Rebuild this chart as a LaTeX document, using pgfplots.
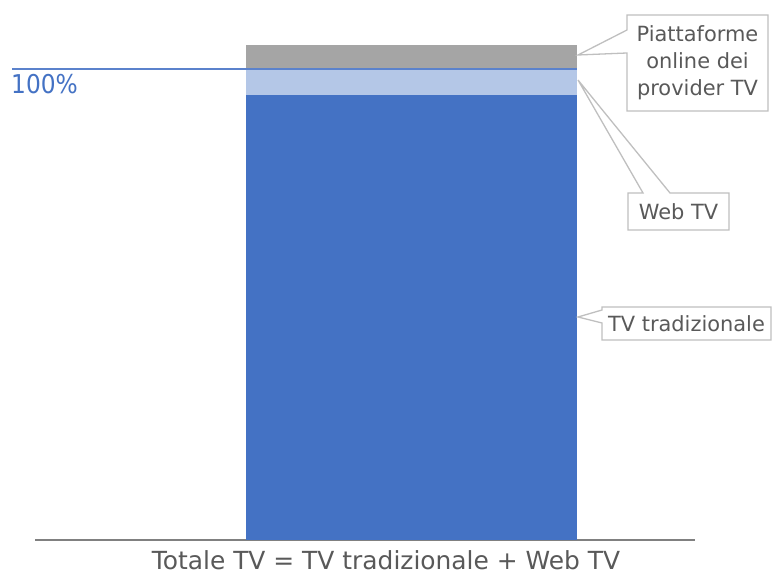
\documentclass[border=0pt]{standalone}
\usepackage{pgfplots}
\pgfplotsset{compat=1.18}
\usepackage{fontspec}
\setmainfont{DejaVu Sans}
\newfontfamily\condfont{DejaVu Sans Condensed}
\definecolor{dblue}{HTML}{4472C4}
\definecolor{lblue}{HTML}{B4C7E7}
\definecolor{mgray}{HTML}{A5A5A5}
\definecolor{txt}{HTML}{595959}
\definecolor{bord}{HTML}{BFBFBF}
\definecolor{lineblue}{HTML}{5B82CC}
\begin{document}
\begin{tikzpicture}[x=1bp,y=1bp]
\useasboundingbox (0,0) rectangle (772,577);
\begin{axis}[
  at={(35bp,37bp)}, anchor=origin,
  scale only axis, width=660bp, height=540bp,
  xmin=0, xmax=1, ymin=0, ymax=114.65,
  axis y line=none, axis x line*=bottom,
  x axis line style={draw=gray, line width=1.2pt, -},
  xtick=\empty, ytick=\empty,
  ybar stacked, bar width=331bp,
  clip=false,
]
\addplot[fill=dblue, draw=none] coordinates {(0.5705,94.5)};
\addplot[fill=lblue, draw=none] coordinates {(0.5705,5.5)};
\addplot[fill=mgray, draw=none] coordinates {(0.5705,5.1)};
\end{axis}
\draw[lineblue, line width=1.2pt] (12,508) -- (577,508);
\node[anchor=north west, text=dblue, font=\condfont\fontsize{26}{30}\selectfont, inner sep=0pt] at (11,503) {100\%};
% callouts (picture coordinates, y = 577 - px)
\filldraw[fill=white, draw=bord, line width=1.3pt]
  (627,562) -- (768,562) -- (768,466) -- (627,466) -- (627,524) -- (578,522) -- (627,547) -- cycle;
\node[text=txt, align=center, font=\fontsize{21}{27}\selectfont] at (697.5,514) {Piattaforme\\online dei\\provider TV};
\filldraw[fill=white, draw=bord, line width=1.3pt]
  (628,384) -- (643,384) -- (578,497) -- (670,384) -- (729,384) -- (729,347) -- (628,347) -- cycle;
\node[text=txt, font=\fontsize{21}{24}\selectfont] at (678.5,365.5) {Web TV};
\filldraw[fill=white, draw=bord, line width=1.3pt]
  (602,270) -- (771,270) -- (771,237) -- (602,237) -- (602,254) -- (578,260) -- (602,267) -- cycle;
\node[text=txt, font=\fontsize{21}{24}\selectfont] at (686.5,253.5) {TV tradizionale};
\node[text=txt, font=\fontsize{25}{30}\selectfont, anchor=base] at (386,7) {Totale TV = TV tradizionale + Web TV};
\end{tikzpicture}
\end{document}
